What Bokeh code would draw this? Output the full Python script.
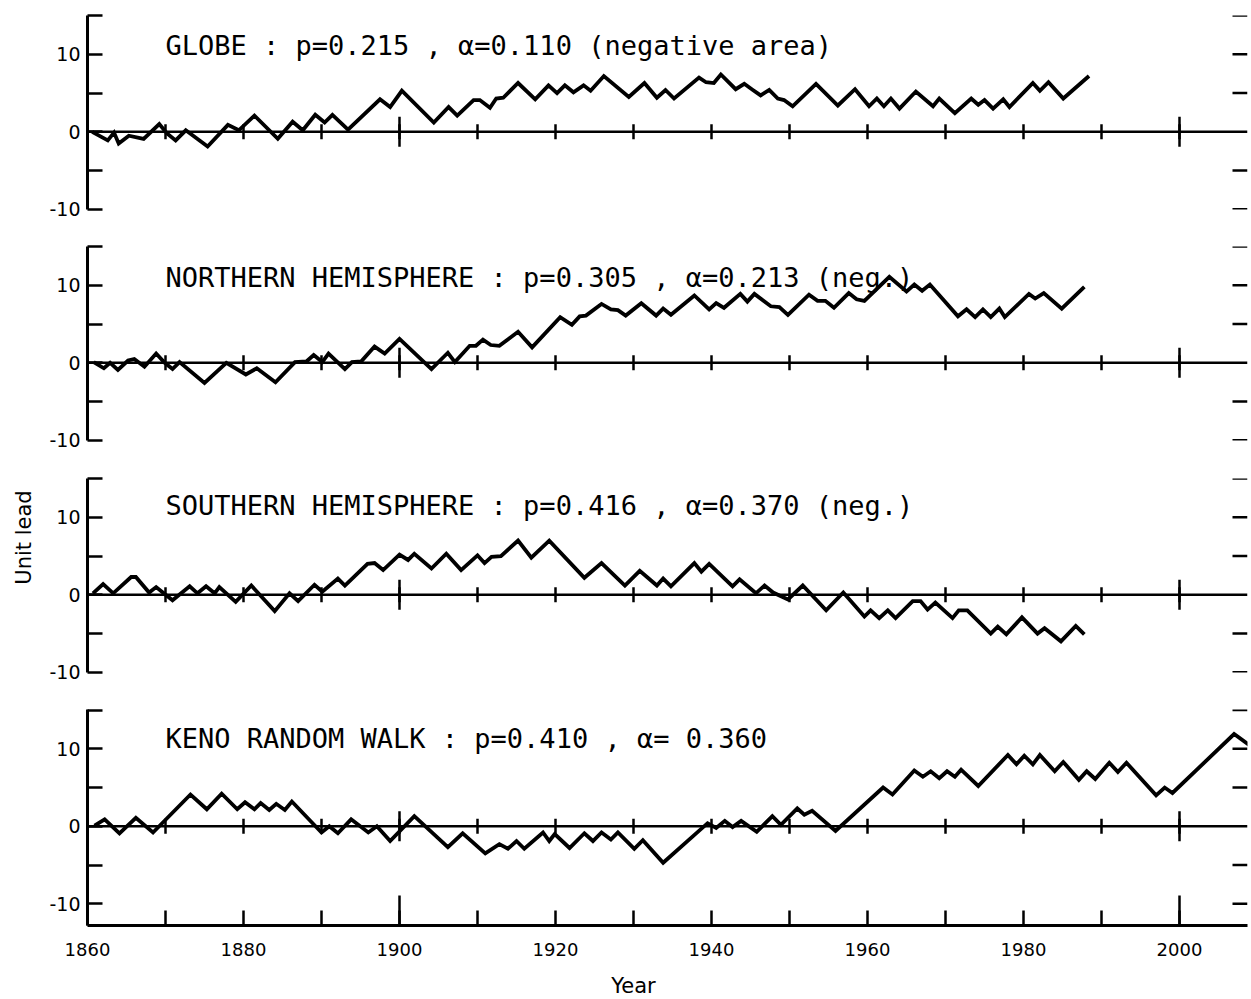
import numpy as np
from bokeh.plotting import figure
from bokeh.layouts import column, row
from bokeh.models import Range1d, FixedTicker, Span, Label
from bokeh.embed import file_html
from bokeh.resources import INLINE

# ---------------- data ----------------
globe_years = [1860.6, 1862.6, 1863.4, 1864.0, 1865.3, 1867.2, 1869.2, 1870.2, 1871.3, 1872.6,
               1875.4, 1878.0, 1879.4, 1881.4, 1884.4, 1886.3, 1887.6, 1889.2, 1890.4, 1891.4,
               1893.4, 1897.5, 1898.8, 1900.3, 1904.4, 1906.3, 1907.4, 1909.5, 1910.3, 1911.6,
               1912.4, 1913.3, 1915.2, 1917.4, 1919.1, 1920.2, 1921.2, 1922.3, 1923.6, 1924.5,
               1926.2, 1929.4, 1931.4, 1933.0, 1934.1, 1935.2, 1938.4, 1939.3, 1940.3, 1941.2,
               1943.1, 1944.2, 1945.3, 1946.3, 1947.4, 1948.5, 1949.3, 1950.4, 1953.4, 1956.2,
               1958.4, 1960.2, 1961.2, 1962.1, 1963.0, 1964.1, 1966.2, 1968.4, 1969.2, 1971.2,
               1973.3, 1974.2, 1975.0, 1976.1, 1977.4, 1978.2, 1981.2, 1982.1, 1983.2, 1985.1,
               1988.4]
globe_vals = [0.0, -1.1, -0.1, -1.5, -0.5, -0.9, 1.0, -0.2, -1.1, 0.2,
              -1.9, 0.9, 0.2, 2.1, -0.9, 1.3, 0.2, 2.2, 1.2, 2.2,
              0.3, 4.2, 3.2, 5.3, 1.2, 3.2, 2.1, 4.1, 4.1, 3.1,
              4.3, 4.4, 6.3, 4.2, 6.0, 5.0, 6.0, 5.1, 6.0, 5.3,
              7.2, 4.5, 6.3, 4.4, 5.4, 4.3, 7.0, 6.4, 6.3, 7.4,
              5.5, 6.2, 5.4, 4.7, 5.4, 4.3, 4.1, 3.3, 6.2, 3.4,
              5.5, 3.3, 4.3, 3.3, 4.3, 3.0, 5.2, 3.3, 4.3, 2.4,
              4.3, 3.5, 4.1, 3.0, 4.2, 3.2, 6.3, 5.3, 6.4, 4.3,
              7.2]

nh_years = [1860.8, 1862.1, 1862.9, 1863.9, 1865.2, 1866.0, 1867.3, 1868.8, 1869.9, 1870.9,
            1871.8, 1875.0, 1877.8, 1880.3, 1881.7, 1884.1, 1886.6, 1888.1, 1889.0, 1890.1,
            1890.9, 1893.0, 1893.9, 1895.1, 1896.8, 1898.1, 1900.0, 1904.1, 1906.2, 1907.1,
            1909.0, 1909.8, 1910.7, 1911.7, 1912.8, 1915.2, 1917.0, 1920.6, 1922.1, 1923.1,
            1923.9, 1925.9, 1927.1, 1928.0, 1929.0, 1931.0, 1932.9, 1933.8, 1934.8, 1937.8,
            1939.7, 1940.6, 1941.6, 1943.7, 1944.6, 1945.5, 1947.6, 1948.7, 1949.8, 1952.5,
            1953.6, 1954.6, 1955.7, 1957.6, 1958.6, 1959.6, 1962.8, 1965.0, 1966.0, 1967.0,
            1968.0, 1971.6, 1972.7, 1973.8, 1974.8, 1975.8, 1976.9, 1977.6, 1980.7, 1981.5,
            1982.6, 1984.9, 1987.8]
nh_vals = [0.1, -0.7, 0.0, -0.9, 0.3, 0.5, -0.5, 1.2, 0.0, -0.8,
           0.1, -2.6, 0.0, -1.5, -0.7, -2.5, 0.1, 0.2, 1.0, 0.1,
           1.2, -0.8, 0.1, 0.2, 2.1, 1.2, 3.1, -0.8, 1.3, 0.1,
           2.2, 2.2, 3.0, 2.3, 2.2, 4.0, 2.0, 5.9, 4.9, 6.0,
           6.1, 7.6, 6.9, 6.8, 6.1, 7.7, 6.1, 7.0, 6.2, 8.7,
           6.9, 7.7, 7.1, 8.9, 7.9, 8.9, 7.3, 7.2, 6.2, 8.8,
           8.0, 8.0, 7.1, 9.0, 8.2, 8.0, 11.1, 9.2, 10.1, 9.3,
           10.1, 6.0, 6.9, 5.9, 6.9, 5.9, 7.0, 5.9, 8.9, 8.3,
           9.0, 7.0, 9.8]

sh_years = [1860.7, 1862.0, 1863.3, 1865.6, 1866.2, 1867.9, 1868.8, 1869.9, 1870.9, 1873.1,
            1874.1, 1875.2, 1876.3, 1876.9, 1879.0, 1881.0, 1884.0, 1885.9, 1887.0, 1889.1,
            1890.1, 1892.1, 1893.0, 1895.9, 1896.8, 1897.9, 1900.0, 1901.1, 1901.9, 1904.1,
            1906.0, 1907.9, 1910.0, 1910.9, 1911.8, 1913.0, 1915.2, 1916.9, 1919.2, 1923.7,
            1925.9, 1928.9, 1930.8, 1933.0, 1933.8, 1934.8, 1937.8, 1938.7, 1939.7, 1942.7,
            1943.6, 1945.7, 1946.8, 1947.9, 1949.8, 1951.7, 1954.7, 1956.9, 1959.6, 1960.4,
            1961.5, 1962.6, 1963.6, 1965.8, 1966.8, 1967.7, 1968.7, 1970.9, 1971.7, 1972.8,
            1975.8, 1976.7, 1977.8, 1979.8, 1981.8, 1982.7, 1984.8, 1986.7, 1987.8]
sh_vals = [0.2, 1.4, 0.2, 2.3, 2.3, 0.3, 1.0, 0.1, -0.7, 1.1,
           0.2, 1.1, 0.2, 1.0, -0.9, 1.2, -2.1, 0.2, -0.8, 1.3,
           0.4, 2.1, 1.2, 4.0, 4.1, 3.2, 5.2, 4.5, 5.3, 3.4,
           5.3, 3.2, 5.1, 4.1, 4.9, 5.0, 7.0, 4.8, 7.0, 2.2,
           4.1, 1.2, 3.1, 1.2, 2.1, 1.1, 4.1, 3.0, 4.0, 1.1,
           2.0, 0.2, 1.2, 0.3, -0.6, 1.2, -2.0, 0.3, -2.8, -2.0,
           -3.0, -2.0, -3.0, -0.8, -0.8, -1.9, -1.0, -3.0, -2.0, -2.0,
           -5.0, -4.1, -5.1, -2.9, -5.0, -4.3, -6.0, -4.0, -5.1]

keno_years = [1860.9, 1862.2, 1864.1, 1866.2, 1868.4, 1873.2, 1875.3, 1877.2, 1879.2, 1880.2,
              1881.4, 1882.2, 1883.3, 1884.2, 1885.3, 1886.2, 1890.0, 1891.0, 1892.1, 1893.8,
              1896.0, 1897.1, 1898.8, 1901.9, 1906.2, 1908.1, 1911.0, 1912.8, 1913.9, 1915.0,
              1916.0, 1918.4, 1919.2, 1919.9, 1921.8, 1923.7, 1924.8, 1925.9, 1927.1, 1928.0,
              1930.1, 1931.2, 1933.8, 1939.5, 1940.6, 1941.7, 1942.7, 1943.8, 1945.8, 1947.8,
              1948.9, 1951.0, 1951.9, 1952.9, 1955.9, 1962.0, 1963.2, 1966.0, 1967.1, 1968.1,
              1969.2, 1970.2, 1971.2, 1972.0, 1974.2, 1978.0, 1979.1, 1980.1, 1981.2, 1982.1,
              1984.0, 1985.1, 1987.1, 1988.1, 1989.2, 1991.0, 1992.1, 1993.2, 1997.0, 1998.1,
              1999.1, 2007.0, 2009.6]
keno_vals = [0.1, 0.9, -0.9, 1.1, -0.8, 4.1, 2.2, 4.2, 2.2, 3.1,
             2.2, 3.0, 2.1, 2.9, 2.1, 3.2, -0.8, 0.0, -0.9, 0.9,
             -0.8, 0.0, -1.9, 1.3, -2.7, -0.9, -3.5, -2.3, -2.9, -1.9,
             -2.9, -0.8, -1.9, -1.0, -2.8, -0.9, -1.9, -0.8, -1.7, -0.8,
             -2.9, -1.8, -4.7, 0.4, -0.2, 0.7, -0.1, 0.7, -0.7, 1.3,
             0.2, 2.3, 1.5, 2.0, -0.6, 5.0, 4.1, 7.2, 6.4, 7.1,
             6.2, 7.1, 6.4, 7.3, 5.2, 9.2, 8.0, 9.1, 8.0, 9.2,
             7.1, 8.3, 6.0, 7.1, 6.1, 8.2, 7.0, 8.2, 4.0, 5.0,
             4.3, 11.9, 10.0]

titles = ["GLOBE : p=0.215 , \u03b1=0.110 (negative area)",
          "NORTHERN HEMISPHERE : p=0.305 , \u03b1=0.213 (neg.)",
          "SOUTHERN HEMISPHERE : p=0.416 , \u03b1=0.370 (neg.)",
          "KENO RANDOM WALK : p=0.410 , \u03b1= 0.360"]

y_major_ticks = [-10, 0, 10]
y_minor_ticks = [-5, 5, 15]
y_tick_labels = {-10: "-10", 0: "0", 10: "10"}
right_ticks = [-10, -5, 5, 10, 15]
decade_ticks = [1870, 1880, 1890, 1900, 1910, 1920, 1930, 1940, 1950, 1960, 1970, 1980, 1990, 2000]
century_ticks = [1900, 2000]
x_label_ticks = [1860, 1880, 1900, 1920, 1940, 1960, 1980, 2000]
x_minor_ticks = [1870, 1890, 1910, 1930, 1950, 1970, 1990]
x_label_text = "Year"
y_label_text = "Unit lead"

# ---------------- layout / style ----------------
PX_YEAR = 7.8
PX_UNIT = 7.75
YLAB_W = 40
LEFT_B = 47
FRAME_W = 1160
RIGHT_B = 2
TOTAL_H = 997
FONT = "DejaVu Sans"
TITLE_FONT = "DejaVu Sans Mono"
PANEL_W = LEFT_B + FRAME_W + RIGHT_B

x_end = 1860 + FRAME_W / PX_YEAR
x_range = Range1d(1860, x_end)

panels_cfg = [
    # years, vals, title, y_lo, frame_h, top, bottom, title_y
    (globe_years, globe_vals, titles[0], -10.02, 194, 15, 20, 11.1),
    (nh_years, nh_vals, titles[1], -10.02, 194, 17, 20, 11.0),
    (sh_years, sh_vals, titles[2], -10.02, 194, 18, 20, 11.5),
    (keno_years, keno_vals, titles[3], -12.8, 216, 17, 42, 11.3),
]

figs = []
for i, (yrs, vals, title, y_lo, frame_h, tb, bb, ty) in enumerate(panels_cfg):
    last = i == len(panels_cfg) - 1
    y_hi = y_lo + frame_h / PX_UNIT
    p = figure(width=PANEL_W, height=tb + frame_h + bb,
               x_range=x_range, y_range=Range1d(y_lo, y_hi),
               output_backend="svg", toolbar_location=None, title=None,
               x_axis_location="below" if last else None,
               min_border_left=LEFT_B, min_border_right=RIGHT_B,
               min_border_top=tb, min_border_bottom=bb)
    p.outline_line_color = None
    p.grid.visible = False

    yax = p.yaxis[0]
    yax.ticker = FixedTicker(ticks=y_major_ticks, minor_ticks=y_minor_ticks)
    yax.major_label_overrides = y_tick_labels
    yax.major_tick_in = 15
    yax.major_tick_out = 0
    yax.minor_tick_in = 15
    yax.minor_tick_out = 0
    yax.axis_line_width = 3
    yax.major_tick_line_width = 2.5
    yax.minor_tick_line_width = 2.5
    yax.major_label_text_font = FONT
    yax.major_label_text_font_size = "19px"
    yax.major_label_text_color = "black"
    yax.major_label_standoff = 7

    # short ticks at the right-hand edge
    n = len(right_ticks)
    p.segment(x0=[x_end - 15 / PX_YEAR] * n, x1=[x_end] * n, y0=right_ticks, y1=right_ticks,
              line_color="black", line_width=2.5)

    # zero line with decade ticks
    p.add_layout(Span(location=0, dimension="width", line_color="black", line_width=2.5))
    p.scatter(decade_ticks, [0] * len(decade_ticks), marker="dash", angle=np.pi / 2,
              size=15, line_color="black", line_width=2.5)
    p.scatter(century_ticks, [0] * len(century_ticks), marker="dash", angle=np.pi / 2,
              size=30, line_color="black", line_width=2.5)

    p.line(yrs, vals, line_color="black", line_width=3.8, line_join="miter")

    p.add_layout(Label(x=1870, y=ty, text=title, text_font=TITLE_FONT, text_font_size="27px",
                       text_baseline="middle", text_color="black"))

    if last:
        xax = p.xaxis[0]
        xax.ticker = FixedTicker(ticks=x_label_ticks, minor_ticks=x_minor_ticks)
        xax.major_tick_in = 15
        xax.major_tick_out = 0
        xax.minor_tick_in = 15
        xax.minor_tick_out = 0
        xax.axis_line_width = 3
        xax.major_tick_line_width = 2.5
        xax.minor_tick_line_width = 2.5
        xax.major_label_text_font = FONT
        xax.major_label_text_font_size = "18px"
        xax.major_label_text_color = "black"
        xax.major_label_standoff = 17
        # taller century ticks on the bottom axis
        p.segment(x0=century_ticks, x1=century_ticks, y0=[y_lo] * 2, y1=[y_lo + 30 / PX_UNIT] * 2,
                  line_color="black", line_width=2.5)
    figs.append(p)

# strip below the bottom panel holding the x-axis title (frame aligns with the panels)
used_h = sum(cfg[5] + cfg[4] + cfg[6] for cfg in panels_cfg)
xlab_h = TOTAL_H - used_h
xlab = figure(width=PANEL_W, height=xlab_h, x_range=x_range, y_range=Range1d(0, xlab_h),
              output_backend="svg", toolbar_location=None, title=None,
              x_axis_location=None, y_axis_location=None,
              min_border_left=LEFT_B, min_border_right=RIGHT_B, min_border_top=0, min_border_bottom=0)
xlab.outline_line_color = None
xlab.grid.visible = False
xlab.add_layout(Label(x=1860 + (633 - 87) / PX_YEAR, y=12, text=x_label_text, text_font=FONT,
                      text_font_size="21px", text_align="center", text_baseline="middle",
                      text_color="black"))

# strip to the left holding the y-axis title
ylab = figure(width=YLAB_W, height=TOTAL_H, x_range=Range1d(0, YLAB_W), y_range=Range1d(0, TOTAL_H),
              output_backend="svg", toolbar_location=None, title=None,
              x_axis_location=None, y_axis_location=None, min_border=0)
ylab.outline_line_color = None
ylab.grid.visible = False
ylab.add_layout(Label(x=23, y=TOTAL_H - 537, text=y_label_text, angle=np.pi / 2, text_font=FONT,
                      text_font_size="21px", text_align="center", text_baseline="middle",
                      text_color="black"))

layout = row(ylab, column(*figs, xlab, spacing=0), spacing=0)
open("out.html", "w").write(file_html(layout, INLINE))
